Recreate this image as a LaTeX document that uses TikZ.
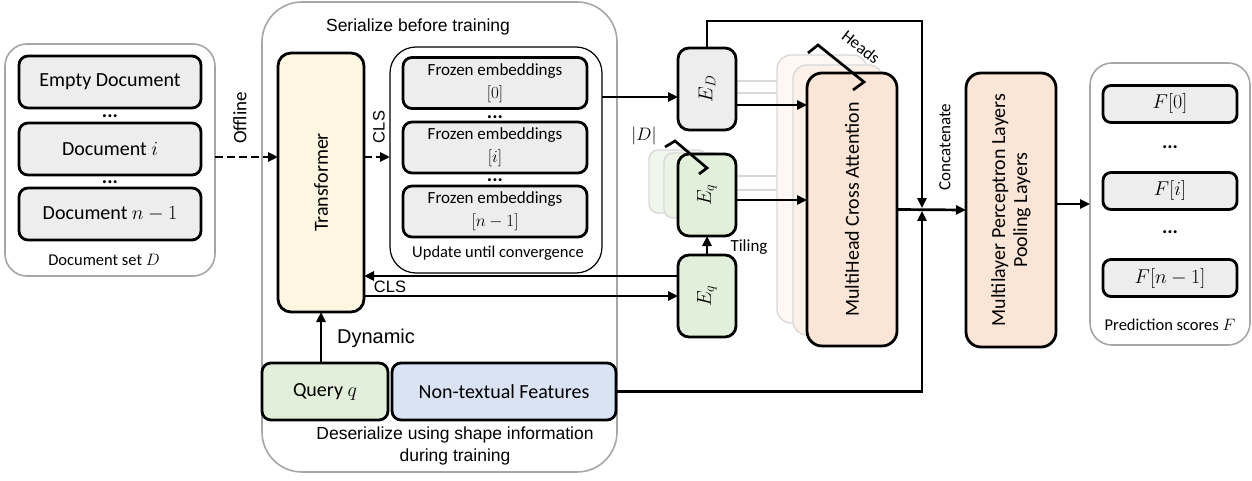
\documentclass[tikz,border=0pt]{standalone}
\usepackage{fix-cm}
\usepackage{fontspec}
\setmainfont{Carlito}
\newfontfamily\arialf{Liberation Sans}
\usetikzlibrary{arrows.meta,calc}
\definecolor{boxgray}{HTML}{EDEDED}
\definecolor{cream}{HTML}{FFF6E2}
\definecolor{lgreen}{HTML}{E2EFDA}
\definecolor{lblue}{HTML}{DAE3F3}
\definecolor{peach}{HTML}{FBE5D6}
\definecolor{contgray}{HTML}{A6A6A6}
\definecolor{ghostline}{HTML}{D9D9D9}
\begin{document}
\begin{tikzpicture}[x=1pt,y=-1pt,
  every node/.style={inner sep=0pt, outer sep=0pt},
  box/.style={draw, line width=2.8pt, rounded corners=9pt, align=center},
  cont/.style={draw=contgray, line width=1.6pt, rounded corners=28pt},
  arr/.style={line width=2.7pt, -{Triangle[length=10pt,width=9pt]}},
  dasharr/.style={arr, dash pattern=on 8pt off 4pt},
  ghostbox/.style={draw=ghostline, line width=1.4pt, rounded corners=14pt},
  ghostln/.style={draw=ghostline, line width=1.4pt},
  brk/.style={line width=2.7pt},
  fa/.style={font=\fontsize{20}{24}\selectfont},
  fb/.style={font=\fontsize{17}{23}\selectfont},
  fc/.style={font=\fontsize{16.5}{20}\selectfont},
  aa/.style={font=\arialf\fontsize{17.5}{22}\selectfont},
  ab/.style={font=\arialf\fontsize{16.5}{20}\selectfont},
  ac/.style={font=\arialf\fontsize{20}{24}\selectfont},
  dots/.style={font=\bfseries\fontsize{20}{24}\selectfont}
]
\useasboundingbox (0,0) rectangle (1252,481);

% helper y-levels
\coordinate (ly) at (0,157);
\coordinate (y97) at (0,97);
\coordinate (y105) at (0,105);
\coordinate (y200) at (0,200);
\coordinate (y276) at (0,276);
\coordinate (ytop) at (0,21);
\coordinate (J) at (922,209.5);

% ---------- Document set ----------
\node[cont, rounded corners=22pt, minimum width=210pt, minimum height=232pt] (docset) at (110,160) {};
\node[box, fill=boxgray, minimum width=182pt, minimum height=52pt, fa] (d0) at (110,82) {Empty Document};
\node[dots] (dd1) at (110,116) {...};
\node[box, fill=boxgray, minimum width=182pt, minimum height=52pt, fa] (d1) at (110,149) {Document $i$};
\node[dots] (dd2) at (110,182) {...};
\node[box, fill=boxgray, minimum width=182pt, minimum height=52pt, fa] (d2) at (110,214) {Document $n-1$};
\node[fc] (dsl) at (104,260) {Document set $D$};

% ---------- middle container ----------
\node[cont, rounded corners=40pt, minimum width=355pt, minimum height=470pt] (mid) at (439.5,237) {};
\node[aa] (ser) at (418,27) {Serialize before training};
\node[box, fill=cream, rounded corners=13pt, minimum width=86pt, minimum height=259pt] (tr) at (321,182.5) {};
\node[fa, rotate=90] (trl) at (tr.center) {Transformer};

\node[draw, line width=1.2pt, rounded corners=26pt, minimum width=212pt, minimum height=226pt] (update) at (496,160) {};
\node[box, fill=boxgray, minimum width=184pt, minimum height=51pt, fb] (f0) at (495,83) {Frozen embeddings\\$[0]$};
\node[dots] (fd1) at (495,117) {...};
\node[box, fill=boxgray, minimum width=184pt, minimum height=51pt, fb] (f1) at (495,147.5) {Frozen embeddings\\$[i]$};
\node[dots] (fd2) at (495,180) {...};
\node[box, fill=boxgray, minimum width=184pt, minimum height=51pt, fb] (f2) at (495,211.5) {Frozen embeddings\\$[n-1]$};
\node[fc] (upl) at (498,253) {Update until convergence};

\node[box, fill=lgreen, minimum width=126pt, minimum height=57pt, fa] (q) at (325,391.5) {Query $q$};
\node[box, fill=lblue, minimum width=224pt, minimum height=57pt, fa] (ntf) at (504,391.5) {Non-textual Features};
\node[ac] (dyn) at (376,338) {Dynamic};
\node[aa, align=center] (deser) at (455,446) {Deserialize using shape information\\during training};

% ---------- E boxes ----------
\draw[ghostln] (736,81) -- (777,81);
\draw[ghostln] (736,93) -- (793,93);
\draw[ghostln] (736,176) -- (777,176);
\draw[ghostln] (736,190) -- (793,190);

\node[ghostbox, rounded corners=9pt, fill=lgreen!55!white, minimum width=58pt, minimum height=63pt] (qg1) at (678,181.5) {};
\node[ghostbox, rounded corners=9pt, fill=lgreen!70!white, minimum width=58pt, minimum height=65pt] (qg2) at (693,185.5) {};

\node[box, fill=boxgray, rounded corners=11pt, minimum width=58pt, minimum height=82pt] (ED) at (707,89) {};
\node[fa, rotate=90] (EDl) at (ED.center) {$E_D$};
\node[box, fill=lgreen, rounded corners=11pt, minimum width=58pt, minimum height=82pt] (Eq1) at (707,195) {};
\node[fa, rotate=90] (Eq1l) at (Eq1.center) {$E_q$};
\node[box, fill=lgreen, rounded corners=11pt, minimum width=58pt, minimum height=82pt] (Eq2) at (707,296) {};
\node[fa, rotate=90] (Eq2l) at (Eq2.center) {$E_q$};

\draw[brk] (665,147) -- (675,141) -- (707,168) -- (699,174);
\node[font=\fontsize{18}{20}\selectfont] (Dl) at (644,136) {$|D|$};
\node[fb] (til) at (749,247) {Tiling};

% ---------- MHCA ----------
\node[ghostbox, fill=peach!30!white, minimum width=90pt, minimum height=268pt] (mg1) at (822,189) {};
\node[ghostbox, fill=peach!50!white, minimum width=90pt, minimum height=270pt] (mg2) at (838,200) {};
\node[box, fill=peach, rounded corners=15pt, minimum width=90pt, minimum height=273pt] (MH) at (852,209.5) {};
\node[fa, rotate=90] (MHl) at (MH.center) {MultiHead Cross Attention};
\draw[brk] (808,53) -- (818,45) -- (864,82) -- (853,90);
\node[fb, rotate=-38] (hdl) at (861,47) {Heads};

\node[fb, rotate=90] (cat) at (945,147) {Concatenate};

% ---------- MLP ----------
\node[box, fill=peach, rounded corners=15pt, minimum width=90pt, minimum height=274pt] (MLP) at (1011,210) {};
\node[font=\fontsize{20}{22}\selectfont, rotate=90, align=center] (MLPl) at (MLP.center) {Multilayer Perceptron Layers\\Pooling Layers};

% ---------- Prediction ----------
\node[cont, rounded corners=22pt, minimum width=160pt, minimum height=282pt] (pred) at (1170,204) {};
\node[box, fill=boxgray, rounded corners=8pt, minimum width=134pt, minimum height=37pt, fa] (p0) at (1170,104) {$F[0]$};
\node[dots] (pd1) at (1170,147) {...};
\node[box, fill=boxgray, rounded corners=8pt, minimum width=134pt, minimum height=37pt, fa] (p1) at (1170,191) {$F[i]$};
\node[dots] (pd2) at (1170,232) {...};
\node[box, fill=boxgray, rounded corners=8pt, minimum width=134pt, minimum height=37pt, fa] (p2) at (1170,278) {$F[n-1]$};
\node[fc] (pl) at (1170,325) {Prediction scores $F$};

% ---------- connectors ----------
\draw[dasharr] (docset.east |- ly) -- (tr.west |- ly);
\node[font=\fontsize{19}{22}\selectfont, rotate=90] (offl) at (240,118) {Offline};
\draw[dasharr] (tr.east |- ly) -- (update.west |- ly);
\node[ab, rotate=90] (cls1) at (379,127) {CLS};

\draw[arr] (update.east |- y97) -- (ED.west |- y97);
\draw[arr] (ED.east |- y105) -- (MH.west |- y105);
\draw[arr] (Eq1.east |- y200) -- (MH.west |- y200);
\draw[arr] (Eq2.north) -- (Eq1.south);
\draw[arr] (Eq2.west |- y276) -- (tr.east |- y276);
\draw[arr] (tr.east |- Eq2.west) -- (Eq2.west);
\node[ab] (cls2) at (390,287) {CLS};
\draw[arr] (q.north -| tr.south) -- (tr.south);

\draw[arr, shorten >=1.4pt] (ED.north) -- (ED.north |- ytop) -| (J);
\draw[arr, shorten >=1.4pt] (ntf.east) -| (J);
\draw[arr] (MH.east) -- (MLP.west);
\draw[arr] (MLP.east |- pred.west) -- (pred.west);
\end{tikzpicture}
\end{document}
